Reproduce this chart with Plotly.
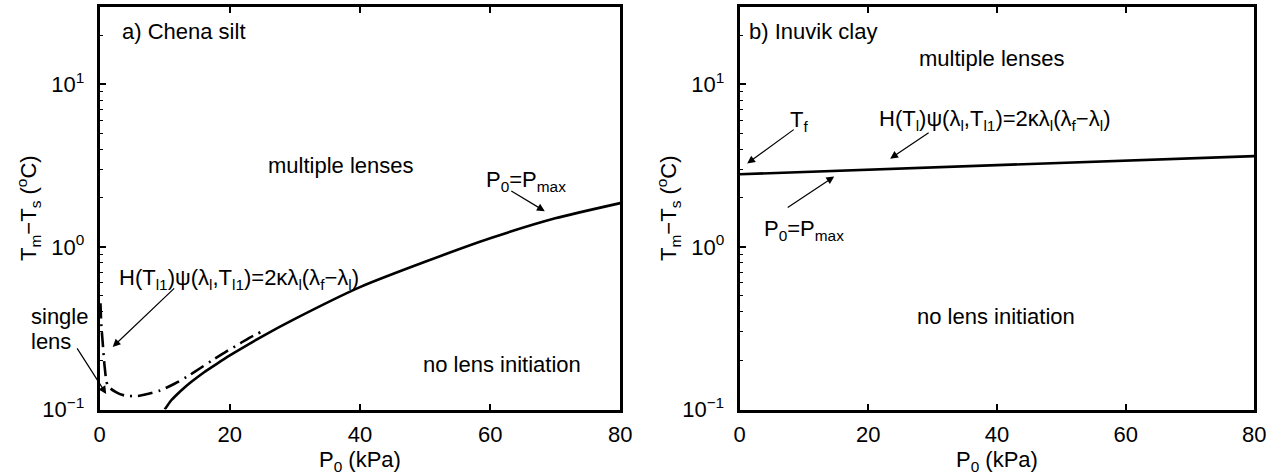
import plotly.graph_objects as go

# Chena silt: P0 = Pmax boundary (solid) and the lens-initiation condition (dash-dot)
chena_p_solid = [10.0, 10.5, 11, 12, 13, 14, 16, 18, 20, 25, 30, 40, 50, 60, 70, 80]
chena_t_solid = [0.100, 0.107, 0.114, 0.125, 0.136, 0.147, 0.169, 0.191, 0.215, 0.282,
                 0.361, 0.566, 0.81, 1.13, 1.50, 1.86]

chena_p_dash = [0.12, 0.25, 0.5, 0.76, 1.26, 2.5, 3.8, 5.8, 7.5, 9.3, 11.5, 13.4,
                15.5, 17.4, 19.5, 21.5, 23.0, 24.8]
chena_t_dash = [0.45, 0.335, 0.248, 0.184, 0.140, 0.128, 0.122, 0.121, 0.125, 0.131,
                0.144, 0.159, 0.18, 0.202, 0.228, 0.254, 0.276, 0.30]

# Inuvik clay: single boundary line
inuvik_p = [0, 20, 40, 60, 80]
inuvik_t = [2.80, 2.98, 3.18, 3.39, 3.62]

x_ticks = [0, 20, 40, 60, 80]
y_ticks = [0.1, 1, 10]
y_tick_text = ["10<sup>\u22121</sup>", "10<sup>0</sup>", "10<sup>1</sup>"]
y_minor = [m * 10 ** e for e in (-1, 0, 1) for m in range(2, 10) if m * 10 ** e <= 30]

FONT = "Liberation Sans, Arial, Helvetica, sans-serif"
FS = 22
TXT = dict(family=FONT, size=FS, color="black")

fig = go.Figure()
fig.add_trace(go.Scatter(x=chena_p_solid, y=chena_t_solid, mode="lines",
                         line=dict(color="black", width=2.6, shape="spline", smoothing=0.6),
                         xaxis="x", yaxis="y", showlegend=False))
fig.add_trace(go.Scatter(x=chena_p_dash, y=chena_t_dash, mode="lines",
                         line=dict(color="black", width=2.6, dash="15px,6px,2px,6px",
                                   shape="spline", smoothing=0.8),
                         xaxis="x", yaxis="y", showlegend=False))
fig.add_trace(go.Scatter(x=inuvik_p, y=inuvik_t, mode="lines",
                         line=dict(color="black", width=2.6),
                         xaxis="x2", yaxis="y2", showlegend=False))

y_dom = [1 - 421 / 476, 1 - 7 / 476]


def xaxis(dom, anchor):
    return dict(domain=dom, anchor=anchor, range=[0, 80], tickmode="array",
                tickvals=x_ticks, ticks="inside", ticklen=6, tickwidth=1.5,
                tickcolor="black", showline=True, linewidth=3, linecolor="black",
                mirror="ticks", showgrid=False, zeroline=False,
                tickfont=TXT, ticklabelstandoff=3,
                title=dict(text="P<sub>0</sub> (kPa)", standoff=0, font=TXT))


def yaxis(anchor, title=True, overlay=None):
    ax = dict(domain=y_dom, anchor=anchor, type="log", range=[-1, 1.477],
              tickmode="array", tickvals=y_ticks, ticktext=y_tick_text,
              ticks="inside", ticklen=6, tickwidth=1.5, tickcolor="black",
              minor=dict(tickmode="array", tickvals=y_minor, ticks="inside",
                         ticklen=3, tickwidth=1, tickcolor="black", showgrid=False),
              showline=True, linewidth=3, linecolor="black",
              showgrid=False, zeroline=False, tickfont=TXT)
    if title:
        ax.update(mirror=True, ticklabelstandoff=8,
                  title=dict(text="T<sub>m</sub>\u2212T<sub>s</sub> (<sup>o</sup>C)",
                             standoff=0, font=TXT))
    else:
        # right-hand copy of the log axis carrying the mirrored ticks
        ax.update(overlaying=overlay, side="right", showticklabels=False)
    return ax


fig.update_layout(
    width=1288, height=476,
    margin=dict(l=0, r=0, t=0, b=0),
    paper_bgcolor="white", plot_bgcolor="white",
    font=TXT,
    xaxis=xaxis([95 / 1288, 623 / 1288], "y"),
    yaxis=yaxis("x"),
    yaxis3=yaxis("x", title=False, overlay="y"),
    xaxis2=xaxis([744 / 1288, 1266 / 1288], "y2"),
    yaxis2=yaxis("x2"),
    yaxis4=yaxis("x2", title=False, overlay="y2"),
)

EQ_L = ("H(T<sub>l1</sub>)\u03c8(\u03bb<sub>l</sub>,T<sub>l1</sub>)=2\u03ba\u03bb<sub>l</sub>"
        "(\u03bb<sub>f</sub>\u2212\u03bb<sub>l</sub>)")
EQ_R = ("H(T<sub>l</sub>)\u03c8(\u03bb<sub>l</sub>,T<sub>l1</sub>)=2\u03ba\u03bb<sub>l</sub>"
        "(\u03bb<sub>f</sub>\u2212\u03bb<sub>l</sub>)")
PMAX = "P<sub>0</sub>=P<sub>max</sub>"


def label(ax, x, y, text, xanchor="center", align="center", xref=None):
    fig.add_annotation(xref=xref or ax, yref=ax.replace("x", "y"), x=x, y=y, text=text,
                       showarrow=False, xanchor=xanchor, yanchor="middle", align=align,
                       font=TXT)


def arrow(ax, x, y, dx, dy):
    fig.add_annotation(xref=ax, yref=ax.replace("x", "y"), x=x, y=y, text="",
                       showarrow=True, ax=dx, ay=dy, arrowhead=2, arrowsize=1.3,
                       arrowwidth=1.2, arrowcolor="black", standoff=0, startstandoff=0)


# panel a) Chena silt
label("x", 3.2, 1.323, "a) Chena silt", xanchor="left")
label("x", 37.1, 0.503, "multiple lenses")
label("x", 65.5, 0.407, PMAX)
arrow("x", 68.4, 0.22, -35, -21)
label("x", 2.6, -0.198, EQ_L, xanchor="left")
arrow("x", 2.0, -0.615, 63, -60)
label("x", 23 / 1288, -0.431, "single", xanchor="left", xref="paper")
label("x", 23 / 1288, -0.581, "lens", xanchor="left", xref="paper")
arrow("x", 1.0, -0.904, -30, -47)
label("x", 61.8, -0.725, "no lens initiation")

# panel b) Inuvik clay
label("x2", 1.2, 1.323, "b) Inuvik clay", xanchor="left")
label("x2", 39.2, 1.162, "multiple lenses")
label("x2", 9.2, 0.772, "T<sub>f</sub>")
arrow("x2", 1.18, 0.513, 48, -35)
label("x2", 21.4, 0.778, EQ_R, xanchor="left")
arrow("x2", 23.4, 0.543, 40, -27)
label("x2", 10.0, 0.102, PMAX)
arrow("x2", 14.7, 0.433, -48, 32)
label("x2", 39.8, -0.425, "no lens initiation")

fig.write_html("out.html")
